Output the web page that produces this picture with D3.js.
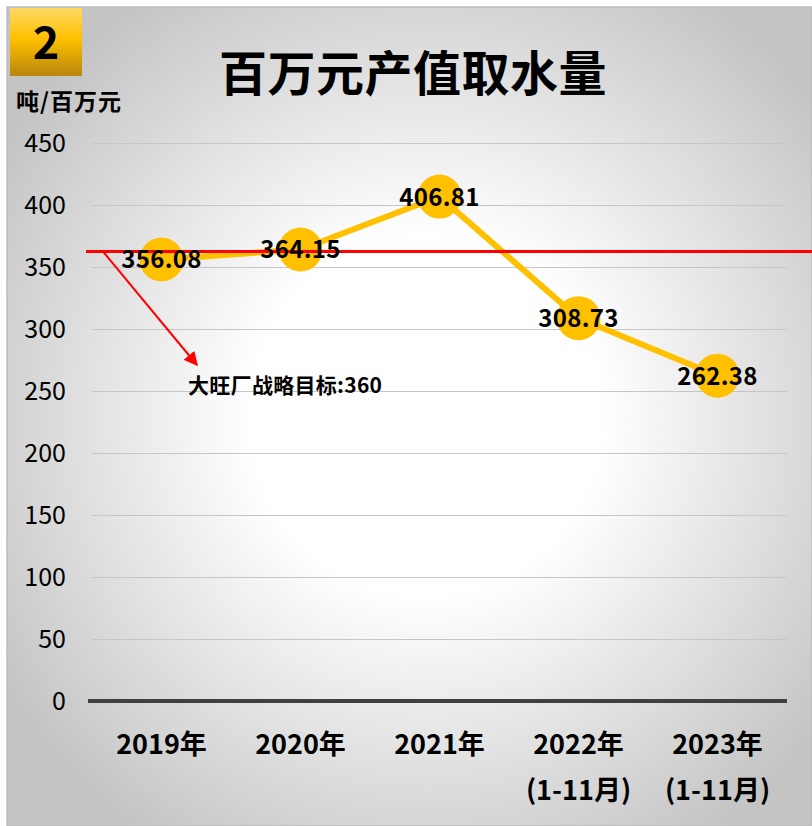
<!DOCTYPE html>
<html>
<head>
<meta charset="utf-8">
<script src="https://cdn.jsdelivr.net/npm/d3@7"></script>
<style>
  body { margin: 0; background: #fff; }
  svg text { font-family: "Noto Sans CJK SC", "Microsoft YaHei", sans-serif; }
</style>
</head>
<body>
<div class="content"></div>
<script>
// data
const years = ['2019年', '2020年', '2021年', '2022年', '2023年']
const subLabels = ['', '', '', '(1-11月)', '(1-11月)']
const waterPerMillion = [356.08, 364.15, 406.81, 308.73, 262.38]
const yTicks = [0, 50, 100, 150, 200, 250, 300, 350, 400, 450]
const targetLevel = 362.5   // where the red line sits in the picture
const targetText = '大旺厂战略目标:360'

const width = 812
const height = 826
const plotLeft = 92
const plotRight = 787
const plotTop = 143
const plotBottom = 701

const svg = d3.select('div.content')
    .append('svg')
    .attr('width', width)
    .attr('height', height)

const defs = svg.append('defs')
let bg = defs.append('radialGradient')
    .attr('id', 'bg-grad')
    .attr('cx', '52%').attr('cy', '50%').attr('r', '62%')
bg.append('stop').attr('offset', '0%').attr('stop-color', '#ffffff')
bg.append('stop').attr('offset', '35%').attr('stop-color', '#ffffff')
bg.append('stop').attr('offset', '100%').attr('stop-color', '#c4c4c4')

let badge = defs.append('linearGradient')
    .attr('id', 'badge-grad')
    .attr('x1', '0%').attr('y1', '0%').attr('x2', '0%').attr('y2', '100%')
badge.append('stop').attr('offset', '0%').attr('stop-color', '#ffd966')
badge.append('stop').attr('offset', '45%').attr('stop-color', '#ffc000')
badge.append('stop').attr('offset', '100%').attr('stop-color', '#b8860b')

defs.append('marker')
    .attr('id', 'arrow')
    .attr('viewBox', '0 0 10 10')
    .attr('refX', 9).attr('refY', 5)
    .attr('markerWidth', 7).attr('markerHeight', 7)
    .attr('markerUnits', 'strokeWidth')
    .attr('orient', 'auto')
    .append('path')
    .attr('d', 'M0,0 L10,5 L0,10 Z')
    .attr('fill', '#ff0000')

// background panel
svg.append('rect')
    .attr('x', 7).attr('y', 7)
    .attr('width', width - 7).attr('height', height - 7)
    .attr('fill', 'url(#bg-grad)')
    .attr('stroke', '#bdbdbd')
    .attr('stroke-width', 1.5)

// number badge
svg.append('rect')
    .attr('x', 10).attr('y', 8)
    .attr('width', 72).attr('height', 68)
    .attr('fill', 'url(#badge-grad)')
svg.append('text')
    .attr('x', 46).attr('y', 59)
    .attr('text-anchor', 'middle')
    .attr('font-size', 45)
    .attr('font-weight', 'bold')
    .attr('fill', '#000')
    .text('2')

// title + unit
svg.append('text')
    .attr('x', 413).attr('y', 91)
    .attr('text-anchor', 'middle')
    .attr('font-size', 48)
    .attr('letter-spacing', 0.5)
    .attr('font-weight', 'bold')
    .attr('fill', '#000')
    .text('百万元产值取水量')
svg.append('text')
    .attr('x', 16).attr('y', 110)
    .attr('font-size', 23)
    .attr('letter-spacing', 1)
    .attr('font-weight', 'bold')
    .attr('fill', '#000')
    .text('吨/百万元')

const x = d3.scaleBand()
    .domain(years)
    .range([plotLeft, plotRight])
const y = d3.scaleLinear()
    .domain([0, 450])
    .range([plotBottom, plotTop])

// gridlines
svg.append('g')
    .attr('transform', `translate(${plotLeft}, 0)`)
    .call(d3.axisLeft(y).tickValues(yTicks.slice(1)).tickSize(-(plotRight - plotLeft)).tickFormat(''))
    .call(g => g.select('.domain').remove())
    .call(g => g.selectAll('line').attr('stroke', '#c6c6c6').attr('stroke-width', 1.2))

// y tick labels
svg.append('g')
    .attr('transform', 'translate(66, 0)')
    .call(d3.axisLeft(y).tickValues(yTicks).tickSize(0).tickPadding(0))
    .call(g => g.select('.domain').remove())
    .call(g => g.selectAll('text')
        .attr('font-size', 25)
        .attr('dy', '0.34em')
        .attr('fill', '#000')
        .style('font-family', '"Noto Sans CJK SC", sans-serif'))

// base line
svg.append('line')
    .attr('x1', plotLeft - 4).attr('x2', plotRight)
    .attr('y1', y(0)).attr('y2', y(0))
    .attr('stroke', '#404040')
    .attr('stroke-width', 4)

// category labels
const xLabels = svg.append('g')
xLabels.selectAll('text.year')
    .data(years)
    .join('text')
    .attr('class', 'year')
    .attr('x', d => x(d) + x.bandwidth() / 2)
    .attr('y', 754)
    .attr('text-anchor', 'middle')
    .attr('font-size', 27)
    .attr('font-weight', 'bold')
    .attr('fill', '#000')
    .text(d => d)
xLabels.selectAll('text.sub')
    .data(years)
    .join('text')
    .attr('class', 'sub')
    .attr('x', d => x(d) + x.bandwidth() / 2)
    .attr('y', 800)
    .attr('text-anchor', 'middle')
    .attr('font-size', 27)
    .attr('font-weight', 'bold')
    .attr('fill', '#000')
    .text((d, i) => subLabels[i])

// series line and markers
const pts = years.map((d, i) => ({ cat: d, v: waterPerMillion[i] }))
const line = d3.line()
    .x(d => x(d.cat) + x.bandwidth() / 2)
    .y(d => y(d.v))
svg.append('path')
    .datum(pts)
    .attr('d', line)
    .attr('fill', 'none')
    .attr('stroke', '#ffc000')
    .attr('stroke-width', 6)
    .attr('stroke-linejoin', 'round')
svg.append('g')
    .selectAll('circle')
    .data(pts)
    .join('circle')
    .attr('cx', d => x(d.cat) + x.bandwidth() / 2)
    .attr('cy', d => y(d.v))
    .attr('r', 22)
    .attr('fill', '#ffc000')

// target line
svg.append('line')
    .attr('x1', 86).attr('x2', width)
    .attr('y1', y(targetLevel)).attr('y2', y(targetLevel))
    .attr('stroke', '#ff0000')
    .attr('stroke-width', 3)

// value labels
svg.append('g')
    .selectAll('text')
    .data(pts)
    .join('text')
    .attr('x', d => x(d.cat) + x.bandwidth() / 2)
    .attr('y', d => y(d.v) + 9)
    .attr('text-anchor', 'middle')
    .attr('font-size', 24)
    .attr('letter-spacing', 0.3)
    .attr('font-weight', 'bold')
    .attr('fill', '#000')
    .text(d => d.v.toFixed(2))

// annotation arrow
svg.append('line')
    .attr('x1', 103).attr('y1', y(targetLevel))
    .attr('x2', 197).attr('y2', 365)
    .attr('stroke', '#ff0000')
    .attr('stroke-width', 2)
    .attr('marker-end', 'url(#arrow)')
svg.append('text')
    .attr('x', 188).attr('y', 393)
    .attr('font-size', 21)
    .attr('letter-spacing', 0.3)
    .attr('font-weight', 'bold')
    .attr('fill', '#000')
    .text(targetText)
</script>
</body>
</html>
